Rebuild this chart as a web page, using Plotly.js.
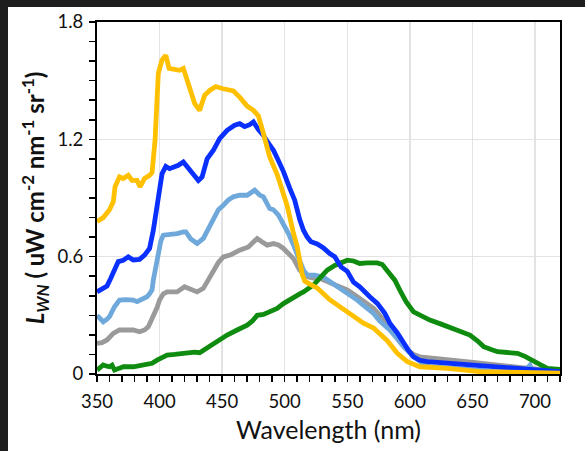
<!DOCTYPE html>
<html>
<head>
<meta charset="utf-8">
<script src="https://cdn.plot.ly/plotly-3.0.1.min.js"></script>
<style>
html,body{margin:0;padding:0;background:#fff;overflow:hidden;width:585px;height:451px;}
#wrap{position:relative;width:585px;height:451px;overflow:hidden;background:#fff;}
#chart{position:absolute;left:0;top:0;width:585px;height:451px;}
.band{position:absolute;background:#1e1e1e;}
</style>
</head>
<body>
<div id="wrap">
<div id="chart"></div>
<div class="band" style="left:0;top:0;width:8px;height:451px;"></div>
<div class="band" style="left:0;top:0;width:585px;height:7px;"></div>
<div style="position:fixed;right:0;top:7px;width:20px;height:444px;background:#fff;z-index:10;"></div>
</div>
<script>
// Wavelength (nm) and L_WN values for each spectrum
const yellowX = [350,355,360,363,364.4,368,371,375,378,382,384.4,388,392,394,396.4,399,401.8,405,407.6,412,416,419,424,428,432,436,440,445,450,459,464,470,475,479,483,488,494,502,507,510,514,516,520,526,536,550,563,571,576,582,590,598,608,630,656,683,720];
const yellowY = [0.78,0.80,0.84,0.88,0.957,1.008,1.00,1.016,0.99,0.99,0.957,1.00,1.016,1.03,1.195,1.537,1.604,1.63,1.563,1.56,1.553,1.563,1.466,1.384,1.348,1.425,1.45,1.47,1.46,1.447,1.416,1.37,1.348,1.32,1.23,1.11,1.02,0.86,0.72,0.65,0.51,0.475,0.46,0.44,0.38,0.32,0.26,0.235,0.205,0.17,0.106,0.063,0.037,0.029,0.012,0.007,0.004];

const blueX = [350,355,358,361,364,367,371,375,379,384,388,392,395,398,400,402,405,408,412,415,419,424,428,431,434,438,443,448,454,460,464,468,472,475,479,483,487,491,495,499,504,508,512,515,518,521,526,531,536,540,545,550,555,560,568,574,580,584,590,595,599,603,608,614,630,656,683,710,720];
const blueY = [0.42,0.44,0.45,0.49,0.53,0.575,0.582,0.599,0.583,0.586,0.608,0.642,0.735,0.854,0.957,1.025,1.062,1.05,1.06,1.067,1.084,1.042,1.01,0.99,1.008,1.10,1.144,1.204,1.246,1.272,1.28,1.265,1.275,1.289,1.25,1.22,1.18,1.144,1.09,1.035,0.95,0.889,0.79,0.735,0.70,0.676,0.665,0.645,0.616,0.60,0.548,0.525,0.47,0.446,0.395,0.361,0.31,0.26,0.21,0.157,0.12,0.088,0.07,0.063,0.055,0.041,0.029,0.017,0.012];

const lightBlueX = [350,355,358,360,364,368,373,379,382,386,390,392,394,395,398,399,401,403,408,414,419,421,425,430,435,440,443,447,451,455,459,464,470,473,476,480,483,488,491,495,499,503,507,510,513,515,518,524,531,537,544,550,558,565,571,576,584,590,595,603,610,616,630,643,655,667,690,694,696,698,705,720];
const lightBlueY = [0.30,0.267,0.28,0.293,0.344,0.378,0.38,0.378,0.37,0.385,0.395,0.41,0.43,0.48,0.58,0.616,0.68,0.71,0.712,0.718,0.727,0.727,0.69,0.667,0.693,0.75,0.786,0.84,0.863,0.89,0.906,0.914,0.914,0.925,0.94,0.915,0.906,0.846,0.84,0.812,0.77,0.718,0.66,0.616,0.56,0.531,0.506,0.506,0.495,0.47,0.438,0.41,0.378,0.34,0.31,0.27,0.225,0.18,0.14,0.088,0.055,0.037,0.032,0.029,0.02,0.012,0.015,0.03,0.045,0.02,0.01,0.004];

const grayX = [350,354,358,363,368,374,379,384,388,391,395,398,400,403,406,414,420,425,430,435,439,443,447,451,457,464,471,475,478,482,486,491,495,499,503,507,512,515,518,523,528,535,544,550,558,565,571,580,587,592,598,603,608,620,630,645,656,670,683,698,710,720];
const grayY = [0.157,0.16,0.174,0.208,0.225,0.228,0.225,0.216,0.225,0.242,0.293,0.34,0.378,0.41,0.42,0.42,0.446,0.43,0.42,0.438,0.48,0.531,0.57,0.599,0.61,0.633,0.65,0.675,0.693,0.675,0.659,0.667,0.66,0.642,0.615,0.59,0.531,0.51,0.497,0.49,0.489,0.47,0.446,0.43,0.395,0.365,0.336,0.27,0.208,0.165,0.123,0.10,0.088,0.078,0.071,0.063,0.055,0.046,0.037,0.028,0.02,0.012];

const greenX = [350,355,358,360,362,364,368,371,379,385,390,394,398,402,406,412,419,424,428,432,436,440,447,454,462,470,474,478,483,488,494,499,507,512,515,519,523,528,534,540,545,550,555,560,566,574,578,584,588,592,597,603,610,616,625,635,642,648,654,659,665,670,678,686,692,699,705,710,720];
const greenY = [0.02,0.046,0.04,0.037,0.045,0.02,0.03,0.037,0.037,0.042,0.046,0.055,0.071,0.085,0.097,0.10,0.106,0.114,0.112,0.109,0.125,0.148,0.17,0.199,0.225,0.25,0.27,0.30,0.305,0.318,0.335,0.36,0.395,0.41,0.42,0.435,0.455,0.49,0.531,0.555,0.57,0.582,0.578,0.565,0.568,0.568,0.56,0.514,0.48,0.429,0.37,0.318,0.295,0.276,0.255,0.233,0.215,0.199,0.17,0.14,0.125,0.114,0.11,0.106,0.09,0.063,0.045,0.029,0.024];

const xTicks = [350,400,450,500,550,600,650,700];
const yTicks = [0,0.6,1.2,1.8];
const yTickText = ['0','0.6','1.2','1.8'];

function line(x, y, color) {
  return {x: x, y: y, type: 'scatter', mode: 'lines', line: {color: color, width: 4.8, shape: 'linear'}, hoverinfo: 'skip', showlegend: false};
}

const data = [
  line(grayX, grayY, '#9a9a9a'),
  line(lightBlueX, lightBlueY, '#6fa9dc'),
  line(greenX, greenY, '#0f8c0f'),
  line(blueX, blueY, '#0a30ff'),
  line(yellowX, yellowY, '#ffc000')
];

const FONT = 'Lato, Noto Sans, sans-serif';

const layout = {
  width: 585, height: 451,
  margin: {l: 97, r: 25, t: 22, b: 77, pad: 0},
  paper_bgcolor: '#ffffff', plot_bgcolor: '#ffffff',
  font: {family: FONT, color: '#111111', size: 18},
  xaxis: {
    range: [350, 720], tickvals: xTicks, ticktext: xTicks.map(String),
    showline: true, linecolor: '#000000', linewidth: 2, mirror: true,
    ticks: 'outside', ticklen: 6, tickwidth: 1.5, tickcolor: '#000000',
    minor: {dtick: 10, tick0: 350, ticks: 'outside', ticklen: 6, tickwidth: 1.5, tickcolor: '#000000', showgrid: false},
    showgrid: true, gridcolor: '#e3e3e3', gridwidth: 1.5, zeroline: false,
    ticklabelstandoff: 4,
    tickfont: {family: FONT, size: 18.5, color: '#111111'},
    title: {text: 'Wavelength (nm)', font: {family: FONT, size: 25, color: '#111111'}, standoff: 10}
  },
  yaxis: {
    range: [0, 1.8], tickvals: yTicks, ticktext: yTickText,
    showline: true, linecolor: '#000000', linewidth: 2, mirror: true,
    ticks: 'outside', ticklen: 6, tickwidth: 1.5, tickcolor: '#000000',
    minor: {dtick: 0.1, tick0: 0, ticks: 'outside', ticklen: 6, tickwidth: 1.5, tickcolor: '#000000', showgrid: false},
    showgrid: true, gridcolor: '#e3e3e3', gridwidth: 1.5, zeroline: false,
    ticklabelstandoff: 2,
    tickfont: {family: FONT, size: 18.5, color: '#111111'},
    title: {text: '<b><i>L</i><sub><i>WN</i></sub> ( uW cm<sup>-2</sup> nm<sup>-1</sup> sr<sup>-1</sup>)</b>', font: {family: FONT, size: 24, color: '#111111'}, standoff: 6}
  }
};

Plotly.newPlot('chart', data, layout, {staticPlot: true, displayModeBar: false});
</script>
</body>
</html>
